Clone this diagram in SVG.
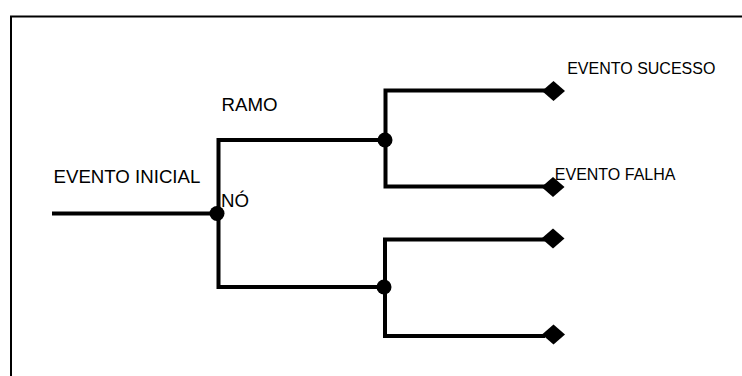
<svg xmlns="http://www.w3.org/2000/svg" width="742" height="376" viewBox="0 0 742 376">
<style>
.frame{fill:none;stroke:#000;stroke-width:2}
.ln{fill:none;stroke:#000;stroke-width:4;stroke-linecap:butt;stroke-linejoin:miter}
.dot{fill:#000}
.dia{fill:#000}
.big{font-family:"Liberation Sans",Arial,sans-serif;font-size:18.67px;fill:#000}
.sm{font-family:"Liberation Sans",Arial,sans-serif;font-size:16px;fill:#000}
</style>
<defs>
<polygon id="diamond" points="-11.5,0 0,-10 11.5,0 0,10" class="dia"/>
</defs>
<rect width="742" height="376" fill="#fff"/>
<path class="frame" d="M11,380 V16.5 H746"/>
<g id="connectors">
<path class="ln" d="M52,213.5 H218.5"/>
<path class="ln" d="M385.5,140 H218.5 V287 H385.5"/>
<path class="ln" d="M545,90.5 H385.5 V186.5 H545"/>
<path class="ln" d="M545,239.5 H385 V336 H545"/>
</g>
<g id="node-inicial">
<circle class="dot" cx="217" cy="213.5" r="7.5"/>
<text class="big" x="53.5" y="183.3">EVENTO INICIAL</text>
<text class="big" x="221" y="207.3">NÓ</text>
</g>
<g id="node-ramo-sup">
<circle class="dot" cx="385" cy="140" r="7.5"/>
<text class="big" x="221.5" y="111">RAMO</text>
</g>
<g id="node-ramo-inf">
<circle class="dot" cx="384" cy="287" r="7.5"/>
</g>
<g id="end-sucesso">
<use href="#diamond" x="553.5" y="91"/>
<text class="sm" x="567.2" y="74.3">EVENTO SUCESSO</text>
</g>
<g id="end-falha">
<use href="#diamond" x="553" y="187"/>
<text class="sm" x="554.8" y="180">EVENTO FALHA</text>
</g>
<g id="end-3">
<use href="#diamond" x="553" y="238.5"/>
</g>
<g id="end-4">
<use href="#diamond" x="553.5" y="334.5"/>
</g>
</svg>
